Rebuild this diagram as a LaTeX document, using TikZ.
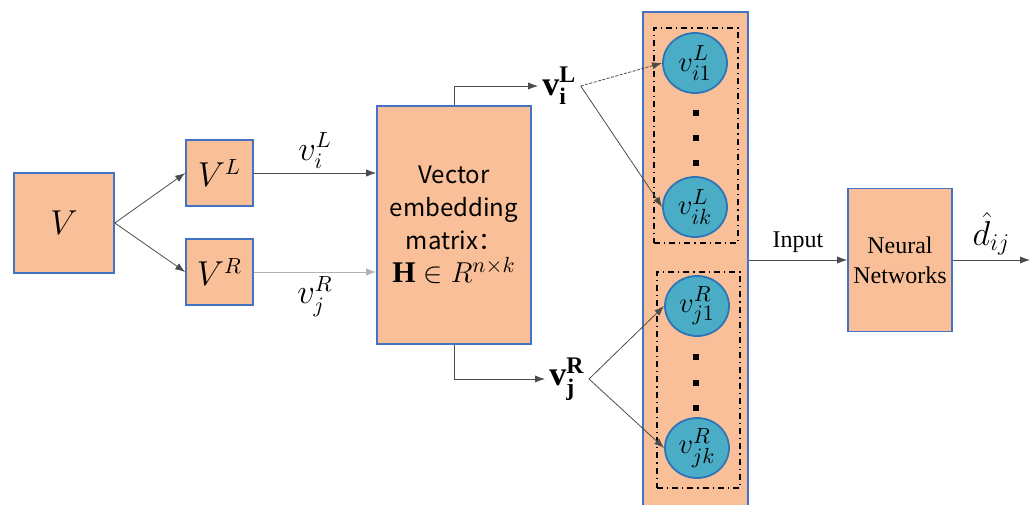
\documentclass[tikz,border=0pt]{standalone}
\usepackage{amsmath,amssymb}
\usepackage{fontspec}
\setmainfont{Liberation Serif}
\newfontfamily\cjk{Noto Sans CJK SC}
\usepackage{xcolor}
\usetikzlibrary{shapes.geometric, arrows.meta, positioning, calc}
\definecolor{peach}{HTML}{F9BF98}
\definecolor{edgeblue}{HTML}{4472C4}
\definecolor{ballfill}{HTML}{4BACC6}
\definecolor{balledge}{HTML}{2E75B6}

\begin{document}
\begin{tikzpicture}[x=0.5pt, y=-0.5pt,
  box/.style={draw=edgeblue, line width=0.8pt, fill=peach, inner sep=0pt},
  ball/.style={ellipse, draw=balledge, line width=0.9pt, fill=ballfill, minimum width=32pt, minimum height=30pt, inner sep=0pt, font=\fontsize{15}{17}\selectfont},
  grp/.style={draw=black, line width=0.6pt, dash dot, inner sep=0pt},
  link/.style={draw=black!70, line width=0.4pt, -{Latex[length=5pt,width=3.6pt]}},
  lab/.style={font=\fontsize{16}{19}\selectfont, inner sep=2pt}]
\useasboundingbox (0,0) rectangle (1032,504);
% Input sets
\node[box, minimum width=50pt, minimum height=50pt, font=\fontsize{16}{19}\selectfont] (V) at (64,223) {$V$};
\node[box, minimum width=33.5pt, minimum height=33pt, font=\fontsize{16}{19}\selectfont] (VL) at (219.5,173) {$V^{L}$};
\node[box, minimum width=33.5pt, minimum height=33pt, font=\fontsize{16}{19}\selectfont] (VR) at (219.5,272) {$V^{R}$};
% Embedding matrix
\node[box, minimum width=77pt, minimum height=119pt, align=center, font=\fontsize{12}{16.5}\selectfont] (H) at (454,225)
  {{\cjk Vector}\\{\cjk embedding}\\{\cjk matrix：}\\{\fontsize{15}{16.5}\selectfont$\mathbf{H}\in R^{n\times k}$}};
% Input column
\node[box, minimum width=52.5pt, minimum height=247pt] (col) at (695.5,259) {};
\node[grp, minimum width=42pt, minimum height=107.5pt] (grpL) at (696,135.5) {};
\node[grp, minimum width=41.5pt, minimum height=108pt] (grpR) at (698.5,380) {};
\node[ball] (i1) at (695,63) {$v_{i1}^{L}$};
\node[ball] (ik) at (695,207) {$v_{ik}^{L}$};
\node[ball] (j1) at (697,306) {$v_{j1}^{R}$};
\node[ball] (jk) at (697,448) {$v_{jk}^{R}$};
\foreach \y [count=\k] in {113,138,163,357,383,408}
  \node[fill=black, minimum size=3.2pt, inner sep=0pt] (dot\k) at (696,\y) {};
% Split vectors
\node[lab, anchor=west, font=\fontsize{17}{19}\selectfont] (vL) at (538,86) {$\mathbf{v}_{\mathbf{i}}^{\mathbf{L}}$};
\node[lab, anchor=west, font=\fontsize{17}{19}\selectfont] (vR) at (545,379) {$\mathbf{v}_{\mathbf{j}}^{\mathbf{R}}$};
% Network
\node[box, minimum width=52pt, minimum height=71.5pt, align=center, font=\fontsize{12}{15}\selectfont] (NN) at (900,260) {Neural\\Networks};
\coordinate (out) at (1030,260);
% Connectors
\draw[link] (V.east) -- (VL.west);
\draw[link] (V.east) -- (VR.west);
\draw[link] (VL.east) -- (VL.east -| H.west) node[lab, midway, above] (li) {$v_{i}^{L}$};
\draw[link, draw=black!30] (VR.east) -- (VR.east -| H.west) node[lab, midway, below] (lj) {$v_{j}^{R}$};
\draw[link] (H.north) |- (vL.west);
\draw[link] (H.south) |- (vR.west);
\draw[link, dash pattern=on 1.5pt off 0.75pt] (vL.east) -- (i1.west);
\draw[link] (vL.east) -- (ik.west);
\draw[link] (vR.east) -- (j1.west);
\draw[link] (vR.east) -- (jk.west);
\draw[link] (col.east |- NN.west) -- (NN.west) node[midway, above, font=\fontsize{12}{14}\selectfont] (inp) {Input};
\draw[link] (NN.east) -- (out) node[lab, midway, above, font=\fontsize{17}{19}\selectfont] (dij) {$\hat{d}_{ij}$};
\end{tikzpicture}
\end{document}
